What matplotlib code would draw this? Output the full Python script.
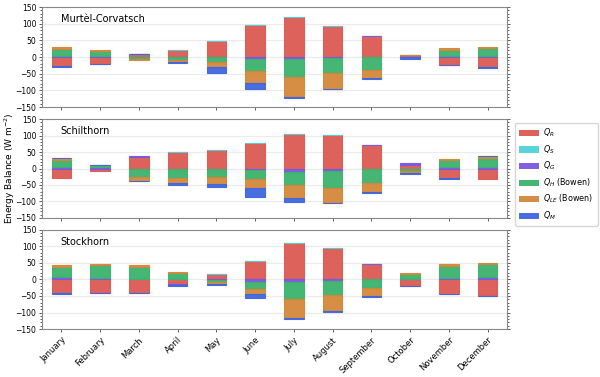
import numpy as np
import matplotlib
matplotlib.use("Agg")
import matplotlib.pyplot as plt
from matplotlib.ticker import MultipleLocator
from matplotlib.patches import Patch

months = ["January", "February", "March", "April", "May", "June", "July",
          "August", "September", "October", "November", "December"]
sites = ["Murtèl-Corvatsch", "Schilthorn", "Stockhorn"]
labels = ["$Q_R$", "$Q_S$", "$Q_G$", "$Q_H$ (Bowen)", "$Q_{LE}$ (Bowen)", "$Q_M$"]
colors = ["#dd5a53", "#4fd3d9", "#7b55e0", "#3cb26c", "#d4873a", "#3f66e0"]

# Murtèl-Corvatsch
mur_R = [-28, -21, 8, 22, 49, 96, 120, 94, 64, 5, -24, -31]
mur_S = [0, 0, 0, 0, 0, 0, 0, 0, 0, 0, 0, 0]
mur_G = [3, 2, 2, -1, -1, -5, -6, -4, 0, -1, 3, 3]
mur_H = [22, 17, -5, -8, -14, -37, -54, -45, -40, 0, 19, 23]
mur_LE = [4, 3, -4, -6, -14, -37, -60, -46, -22, 0, 4, 5]
mur_M = [-1, -1, 0, -4, -18, -18, -3, -1, -3, -5, -1, -1]

# Schilthorn
sch_R = [-28, -7, 34, 50, 55, 77, 105, 103, 70, 12, -30, -31]
sch_S = [0, 0, 0, 0, 0, 0, 0, 0, 0, 0, 0, 0]
sch_G = [5, 5, 3, -1, -1, -4, -11, -7, 0, 4, 5, 5]
sch_H = [22, 5, -27, -29, -25, -28, -40, -51, -43, -8, 21, 27]
sch_LE = [4, 0, -10, -15, -21, -27, -38, -47, -29, -6, 4, 5]
sch_M = [0, 0, -1, -4, -10, -29, -12, -1, -2, -3, -1, 0]

# Stockhorn
sto_R = [-41, -41, -41, -15, 17, 55, 111, 94, 46, -19, -43, -49]
sto_S = [-1, 0, 0, 0, 0, 0, 0, 0, 0, 0, 0, 0]
sto_G = [6, 5, 1, -3, -3, -7, -7, -6, 0, 1, 5, 8]
sto_H = [32, 37, 36, 18, -5, -21, -53, -41, -25, 15, 35, 37]
sto_LE = [5, 5, 7, 3, -5, -17, -55, -48, -25, 3, 5, 4]
sto_M = [-1, -1, -1, -3, -4, -11, -4, -3, -2, -1, -1, -1]

data = [
    [mur_R, mur_S, mur_G, mur_H, mur_LE, mur_M],
    [sch_R, sch_S, sch_G, sch_H, sch_LE, sch_M],
    [sto_R, sto_S, sto_G, sto_H, sto_LE, sto_M],
]

fig = plt.figure(figsize=(6.0, 3.77), dpi=100)
positions = [(0.07, 0.716, 0.775, 0.265),
             (0.07, 0.422, 0.775, 0.262),
             (0.07, 0.127, 0.775, 0.264)]
x = np.arange(len(months))
axes = []
for i, (site, series) in enumerate(zip(sites, data)):
    ax = fig.add_axes(positions[i])
    axes.append(ax)
    pos_b = np.zeros(len(months))
    neg_b = np.zeros(len(months))
    for vals, col in zip(series, colors):
        v = np.array(vals, dtype=float)
        bottom = np.where(v >= 0, pos_b, neg_b)
        ax.bar(x, v, 0.5, bottom=bottom, color=col, alpha=0.95,
               edgecolor=matplotlib.colors.to_rgba(col, 0.3), linewidth=0.8,
               zorder=3)
        pos_b += np.where(v > 0, v, 0)
        neg_b += np.where(v < 0, v, 0)
    ax.set_ylim(-150, 150)
    ax.set_xlim(-0.5, 11.5)
    ax.yaxis.set_major_locator(MultipleLocator(50))
    ax.yaxis.set_minor_locator(MultipleLocator(10))
    ax.grid(axis="y", color="#ebebeb", linewidth=0.8, zorder=0)
    ax.tick_params(axis="y", which="both", labelsize=5.5, right=True,
                   length=2.5, width=0.6, color="#444444", pad=1.5)
    ax.tick_params(axis="y", which="minor", length=1.5)
    ax.tick_params(axis="x", labelsize=6, length=2.5, width=0.6,
                   color="#444444", pad=2)
    for s in ax.spines.values():
        s.set_color("#888888")
        s.set_linewidth(0.8)
    ax.text(0.04, 0.93, site, transform=ax.transAxes, fontsize=7,
            va="top", ha="left")
    ax.set_xticks(x)
    if i < 2:
        ax.set_xticklabels([])
    else:
        ax.set_xticklabels(months, rotation=45, ha="right",
                           rotation_mode="anchor")

fig.text(0.016, 0.555, "Energy Balance (W m$^{-2}$)", fontsize=6.5,
         rotation=90, ha="center", va="center")

handles = [Patch(facecolor=c, alpha=0.95) for c in colors]
fig.legend(handles, labels, loc="upper left",
           bbox_to_anchor=(0.852, 0.685), fontsize=5.8, frameon=True,
           handlelength=2.4, handleheight=0.8, labelspacing=0.5,
           borderpad=0.5, handletextpad=0.6, edgecolor="#cccccc")

fig.savefig("out.png", dpi=100)
